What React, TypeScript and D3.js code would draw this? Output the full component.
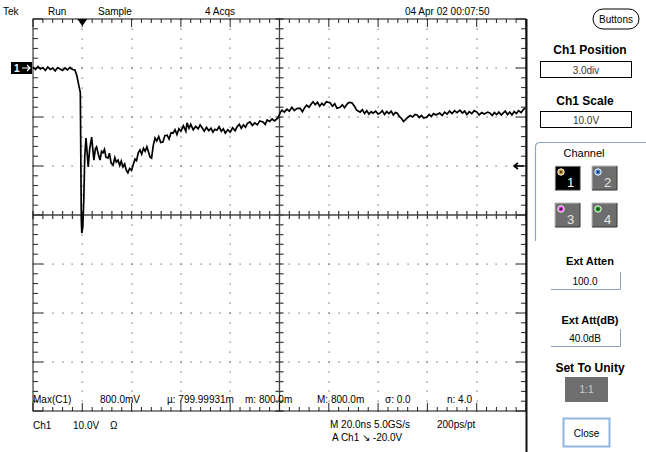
import React, { useMemo } from 'react';
import * as d3 from 'd3';

// Ch1 trace, time in ns from left edge of screen, volts (10 V/div, ground 3 div above centre)
const TIME_NS = [
  0, 1, 2, 3, 4, 5, 6, 7, 8, 9, 10, 11, 12, 13, 14, 15, 16, 17, 17.8, 18.6, 19.2,
  19.4, 19.6, 19.8, 20.2, 20.6, 21.0, 21.5, 22.0, 22.4, 23.0, 23.8, 24.3, 24.7, 25.3, 25.8,
  26.5, 27.2, 27.8, 28.4, 29, 29.6, 30.4, 31, 31.7, 32.5, 33.2, 33.8, 34.5, 35.2, 35.8,
  36.5, 37.2, 37.8, 38.5, 39.2, 40, 40.6, 41.4, 42, 42.7, 43.4, 44.1, 44.8, 45.5, 46.2,
  46.9, 47.5, 48.1, 48.8, 49.5, 50.2, 51, 51.8, 52.7, 53.5, 54.4, 55.2, 56, 56.8, 57.6,
  58.4, 59.2, 60, 61, 62, 62.5, 63.3, 64, 65, 66, 67, 67.8, 68.6, 69.5, 70.4, 71.3,
  72.2, 73, 73.8, 74.6, 75.5, 76.4, 77.2, 78, 79, 80, 81, 82, 82.8, 83.7, 84.5, 85.4,
  86.2, 87, 88, 89, 90, 91, 92, 93.3, 94.2, 95, 96, 97, 98, 99.4, 100.2, 101, 102, 103,
  104, 105, 106, 107, 108.3, 109.3, 110.2, 111, 112, 112.8, 113.6, 114.5, 115.4, 116.3,
  117.2, 118, 119, 120.5, 121.5, 122.4, 123.3, 124.6, 125.5, 126.4, 127.3, 128.2, 129.4,
  130.4, 131.3, 132.7, 133.6, 134.5, 135.4, 136.3, 137.2, 138, 139, 140, 140.8, 141.7,
  142.6, 143.5, 144.4, 145.3, 146.2, 147, 147.7, 148.6, 149.5, 150.3, 151, 152, 153, 154,
  155, 155.8, 156.7, 157.6, 158.5, 159.8, 160.7, 161.6, 162.5, 163.4, 165, 166, 167, 168,
  169, 170, 171, 172, 173.2, 174.2, 175.1, 176, 177, 178, 179, 180.1, 181, 182, 183,
  184.5, 185.4, 186.3, 187.2, 188.1, 189, 190, 190.7, 191.6, 192.5, 193.4, 194.3, 195.2,
  196.1, 197, 198, 198.9, 199.6,
];
const CH1_VOLTS = [
  0.2, -0.3, 0.3, -0.2, 0.1, -0.5, 0.2, -0.3, 0.0, -0.6, 0.1, -0.2, -0.5, 0.0, -0.4, 0.1, -0.3, -0.4, -1.6, -3.6, -5.0,
  -18, -31, -33.7, -32.5, -27, -18, -14.3, -17.5, -20.2, -16.5, -14.1, -16.8, -18.8, -16.5, -16.1,
  -17.6, -18.8, -17.0, -17.3, -16.6, -18.2, -18.4, -17.4, -19.4, -19.8, -18.3, -19.2, -18.8, -19.9, -19.0,
  -20.2, -19.6, -20.8, -21.4, -20.5, -20.9, -19.8, -18.6, -18.9, -17.3, -16.7, -17.6, -16.4, -17.0, -16.1,
  -17.2, -18.2, -18.4, -15.8, -14.3, -14.9, -14.0, -15.2, -15.1, -13.8, -13.7, -14.5, -13.2, -13.3, -12.6,
  -13.6, -12.4, -12.9, -11.8, -12.9, -11.2, -12.3, -11.5, -12.6, -11.9, -12.4, -11.6, -12.2, -12.9, -12.1, -12.8,
  -12.3, -13.1, -12.5, -12.7, -12.0, -12.9, -12.4, -13.3, -12.6, -13.1, -12.2, -12.8, -12.0, -11.5, -12.3, -11.6,
  -12.1, -11.3, -11.0, -11.7, -11.2, -11.6, -10.8, -11.0, -11.5, -10.6, -10.9, -10.4, -10.8, -10.2, -9.2, -8.6, -9.0, -8.4,
  -8.8, -8.0, -8.7, -8.3, -8.2, -8.9, -8.1, -7.6, -8.0, -7.4, -6.9, -7.5, -7.0, -7.8,
  -7.2, -7.6, -6.9, -7.1, -7.8, -7.3, -8.2, -8.0, -7.5, -8.1, -7.4, -7.0, -7.1,
  -7.8, -8.6, -9.0, -8.5, -9.3, -8.7, -9.4, -8.9, -9.2, -8.8, -9.4, -9.2, -8.7,
  -9.5, -8.9, -9.3, -8.8, -9.6, -9.1, -9.2, -9.9, -10.3, -10.9, -10.6, -10.1, -9.7, -10.0,
  -9.5, -9.6, -10.1, -9.7, -10.2, -10.0, -9.5, -9.9, -9.3, -9.6, -9.2, -9.7, -9.0, -9.4,
  -8.8, -9.3, -8.7, -9.1, -8.6, -9.2, -8.8, -9.5, -8.9, -9.3, -8.7, -9.0, -9.6, -9.1, -9.4,
  -9.0, -9.2, -9.7, -9.1, -9.5, -9.0, -9.6, -9.2, -8.8, -9.5, -9.0, -9.6, -8.9,
  -9.3, -8.7, -9.1, -8.5, -8.2,
];

const TIME_DOMAIN = [0, 200];
const VOLT_DOMAIN = [-70, 10];
const TRIGGER_NS = 20;
const TRIGGER_LEVEL = -20;
const GROUND_V = 0;

const STATUS_LABELS = ['Tek', 'Run', 'Sample', '4 Acqs', '04 Apr 02 00:07:50'];
const MEASURE_LABELS = ['Max(C1)', '800.0mV', 'µ: 799.99931m', 'm: 800.0m', 'M: 800.0m', 'σ: 0.0', 'n: 4.0'];
const FOOTER_LEFT = ['Ch1', '10.0V', 'Ω'];
const CHANNEL_COLORS = ['#c8902c', '#3b86e6', '#d52ad5', '#14a014'];

const FONT = '"Liberation Sans", Arial, sans-serif';

const App = () => {
  const W = 646, H = 452;
  const L = 33, R = 526, T = 19, B = 411;

  const x = useMemo(() => d3.scaleLinear().domain(TIME_DOMAIN).range([L, R]), []);
  const y = useMemo(() => d3.scaleLinear().domain(VOLT_DOMAIN).range([B, T]), []);

  const majorX = d3.range(0, 201, 20);
  const minorX = d3.range(0, 201, 4);
  const majorY = d3.range(-70, 11, 10);
  const minorY = d3.range(-70, 11, 2);
  const cx = x(100), cy = y(-30);

  const line = d3.line<number>().x((_, i) => x(TIME_NS[i])).y((v) => y(v));

  const statusX = [3, 48, 98, 205, 405];
  const measX = [33, 100, 167, 245, 317, 385, 447];

  return (
    <svg width={W} height={H} style={{ position: 'absolute', left: 0, top: 0, background: '#fff' }}
      fontFamily={FONT}>
      <rect width={W} height={H} fill="#fff" />

      {/* status line */}
      {STATUS_LABELS.map((s, i) => (
        <text key={s} x={statusX[i]} y={15} fontSize={10}>{s}</text>
      ))}

      {/* dotted grid */}
      <g fill="#666">
        {majorX.filter((t) => t !== 0 && t !== 200 && t !== 100).map((t) =>
          minorY.map((v) => <rect key={`dv${t}_${v}`} x={Math.round(x(t)) - 0.5} y={Math.round(y(v)) - 0.5} width={1.2} height={1.2} />))}
        {majorY.filter((v) => v !== -70 && v !== 10 && v !== -30).map((v) =>
          minorX.map((t) => <rect key={`dh${t}_${v}`} x={Math.round(x(t)) - 0.5} y={Math.round(y(v)) - 0.5} width={1.2} height={1.2} />))}
      </g>

      {/* centre cross with ticks */}
      <g stroke="#444" strokeWidth={1.3}>
        <line x1={L} x2={R} y1={cy} y2={cy} />
        <line x1={cx} x2={cx} y1={T} y2={B} />
        {minorX.map((t) => <line key={`cxt${t}`} x1={x(t)} x2={x(t)} y1={cy - 4} y2={cy + 4} />)}
        {minorY.map((v) => <line key={`cyt${v}`} x1={cx - 4} x2={cx + 4} y1={y(v)} y2={y(v)} />)}
      </g>

      {/* border ticks */}
      <g stroke="#222" strokeWidth={1}>
        {minorX.map((t) => {
          const len = t % 20 === 0 ? 8 : 4;
          return (
            <g key={`bt${t}`}>
              <line x1={x(t)} x2={x(t)} y1={T} y2={T + len} />
              <line x1={x(t)} x2={x(t)} y1={B} y2={B - len} />
            </g>
          );
        })}
        {minorY.map((v) => {
          const len = v % 10 === 0 ? 10 : 5;
          return (
            <g key={`bl${v}`}>
              <line x1={L} x2={L + len} y1={y(v)} y2={y(v)} />
              <line x1={R} x2={R - len} y1={y(v)} y2={y(v)} />
            </g>
          );
        })}
      </g>
      <rect x={L} y={T} width={R - L} height={B - T} fill="none" stroke="#111" strokeWidth={1} />
      <line x1={R + 0.5} x2={R + 0.5} y1={T} y2={H} stroke="#111" strokeWidth={2} />

      {/* trace */}
      <path d={line(CH1_VOLTS) || ''} fill="none" stroke="#000" strokeWidth={1.7} strokeLinejoin="miter" />

      {/* trigger position marker */}
      <path d={`M${x(TRIGGER_NS) - 5},${T} L${x(TRIGGER_NS) + 5},${T} L${x(TRIGGER_NS)},${T + 7} Z`} fill="#000" />

      {/* ground marker */}
      <rect x={11} y={y(GROUND_V) - 6} width={21} height={12} fill="#000" />
      <text x={14} y={y(GROUND_V) + 4} fontSize={10} fill="#fff" fontWeight="bold">1</text>
      <path d={`M22,${y(GROUND_V)} L30,${y(GROUND_V)} M27,${y(GROUND_V) - 3} L30,${y(GROUND_V)} L27,${y(GROUND_V) + 3}`}
        stroke="#fff" strokeWidth={1.2} fill="none" />

      {/* trigger level marker */}
      <path d={`M${R - 11},${y(TRIGGER_LEVEL)} L${R - 2},${y(TRIGGER_LEVEL)} M${R - 8},${y(TRIGGER_LEVEL) - 3} L${R - 12},${y(TRIGGER_LEVEL)} L${R - 8},${y(TRIGGER_LEVEL) + 3}`}
        stroke="#000" strokeWidth={1.6} fill="none" />

      {/* measurement row */}
      {MEASURE_LABELS.map((s, i) => (
        <text key={s} x={measX[i]} y={403} fontSize={10}>{s}</text>
      ))}

      {/* footer */}
      {FOOTER_LEFT.map((s, i) => (
        <text key={s} x={[33, 73, 110][i]} y={429} fontSize={10}>{s}</text>
      ))}
      <text x={330} y={428} fontSize={10}>M 20.0ns 5.0GS/s</text>
      <text x={437} y={428} fontSize={10}>200ps/pt</text>
      <text x={332} y={441} fontSize={10}>A  Ch1  ↘  -20.0V</text>

      {/* right panel */}
      <rect x={593} y={9} width={46} height={20} rx={10} fill="#fff" stroke="#000" strokeWidth={1} />
      <text x={616} y={23} fontSize={10} textAnchor="middle">Buttons</text>

      <text x={590} y={54} fontSize={12} fontWeight="bold" textAnchor="middle">Ch1 Position</text>
      <rect x={540.5} y={61.5} width={91} height={16} fill="#fff" stroke="#000" />
      <text x={586} y={74} fontSize={10} textAnchor="middle" fill="#333">3.0div</text>

      <text x={585} y={105} fontSize={12} fontWeight="bold" textAnchor="middle">Ch1 Scale</text>
      <rect x={540.5} y={111.5} width={91} height={16} fill="#fff" stroke="#000" />
      <text x={586} y={124} fontSize={10} textAnchor="middle" fill="#333">10.0V</text>

      <path d="M535.5,241 L535.5,147 Q535.5,142.5 540,142.5 L646,142.5" fill="none" stroke="#86a6cf" strokeWidth={1.2} />
      <text x={584} y={157} fontSize={11} textAnchor="middle">Channel</text>

      {CHANNEL_COLORS.map((c, i) => {
        const bx = i % 2 === 0 ? 555 : 592;
        const by = i < 2 ? 166 : 203;
        const active = i === 0;
        return (
          <g key={c}>
            <rect x={bx} y={by} width={25} height={24} fill={active ? '#000' : '#6e6e6e'} />
            <path d={`M${bx},${by + 24} L${bx},${by} L${bx + 25},${by}`} stroke={active ? '#ddd' : '#bbb'} fill="none" />
            <path d={`M${bx},${by + 24} L${bx + 25},${by + 24} L${bx + 25},${by}`} stroke="#333" fill="none" />
            <circle cx={bx + 6} cy={by + 6} r={3.2} fill={c} stroke="#fff" strokeWidth={1} />
            <circle cx={bx + 6} cy={by + 6} r={1} fill="#222" />
            <text x={bx + 12} y={by + 21} fontSize={13} fill={active ? '#fff' : '#e6e6e6'}>{i + 1}</text>
          </g>
        );
      })}

      <text x={590} y={265} fontSize={11} fontWeight="bold" textAnchor="middle">Ext Atten</text>
      <path d="M551,289.5 L620.5,289.5 L620.5,272" stroke="#8aa0c0" fill="none" />
      <text x={585} y={285} fontSize={10} textAnchor="middle">100.0</text>

      <text x={590} y={324} fontSize={11} fontWeight="bold" textAnchor="middle">Ext Att(dB)</text>
      <path d="M551,346.5 L620.5,346.5 L620.5,329" stroke="#8aa0c0" fill="none" />
      <text x={585} y={342} fontSize={10} textAnchor="middle">40.0dB</text>

      <text x={590} y={372} fontSize={12} fontWeight="bold" textAnchor="middle">Set To Unity</text>
      <rect x={565} y={377} width={43} height={25} fill="#6e6e6e" />
      <text x={586.5} y={393} fontSize={10} textAnchor="middle" fill="#cfcfcf">1:1</text>

      <rect x={563.5} y={418.5} width={46} height={28} fill="#fff" stroke="#8fb4e0" strokeWidth={2} />
      <text x={586.5} y={437} fontSize={10} textAnchor="middle">Close</text>
    </svg>
  );
};

export default App;
